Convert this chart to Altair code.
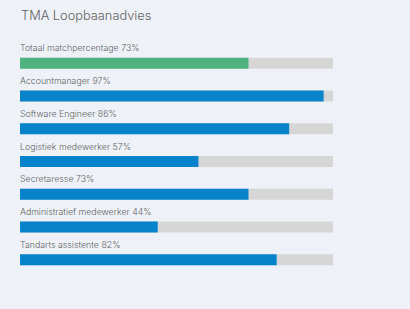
import altair as alt
import pandas as pd

# Career advice match scores
labels = [
    "Totaal matchpercentage",
    "Accountmanager",
    "Software Engineer",
    "Logistiek medewerker",
    "Secretaresse",
    "Administratief medewerker",
    "Tandarts assistente",
]
scores = [73, 97, 86, 57, 73, 44, 82]
kinds = ["totaal", "beroep", "beroep", "beroep", "beroep", "beroep", "beroep"]

df = pd.DataFrame({
    "rij": list(range(len(labels))),
    "naam": labels,
    "score": scores,
    "soort": kinds,
    "max": [100] * len(labels),
})
df["tekst"] = df["naam"] + " " + df["score"].astype(str) + "%"

FONT = "Inter, sans-serif"
TEXT_COLOR = "#626262"

y = alt.Y("rij:O", axis=None, scale=alt.Scale(paddingInner=0, paddingOuter=0))
x_scale = alt.Scale(domain=[0, 100], nice=False)

base = alt.Chart(df)

track = base.mark_bar(size=11, color="#d6d6d6").encode(
    x=alt.X("max:Q", scale=x_scale, axis=None),
    y=y,
)

fill = base.mark_bar(size=11).encode(
    x=alt.X("score:Q", scale=x_scale, axis=None),
    y=y,
    color=alt.Color(
        "soort:N",
        scale=alt.Scale(domain=["totaal", "beroep"], range=["#4fb37f", "#0683cb"]),
        legend=None,
    ),
)

text = base.mark_text(
    align="left", baseline="middle", dy=-15, fontSize=8.8, fontWeight=300,
    font=FONT, color=TEXT_COLOR,
).encode(
    x=alt.value(0),
    y=y,
    text="tekst:N",
)

title = alt.Chart(pd.DataFrame({"t": ["TMA Loopbaanadvies"]})).mark_text(
    align="left", baseline="middle", fontSize=12.8, fontWeight=300,
    font=FONT, color=TEXT_COLOR,
).encode(
    x=alt.value(1),
    y=alt.value(-31),
    text="t:N",
)

chart = alt.layer(track, fill, text, title).properties(
    width=313,
    height=229,
    padding={"left": 20, "top": 47, "right": 77, "bottom": 33},
    autosize=alt.AutoSizeParams(type="none"),
    background="#eef2f8",
).configure_view(stroke=None)

chart.save("out.html", embed_options={"renderer": "svg", "actions": False})
